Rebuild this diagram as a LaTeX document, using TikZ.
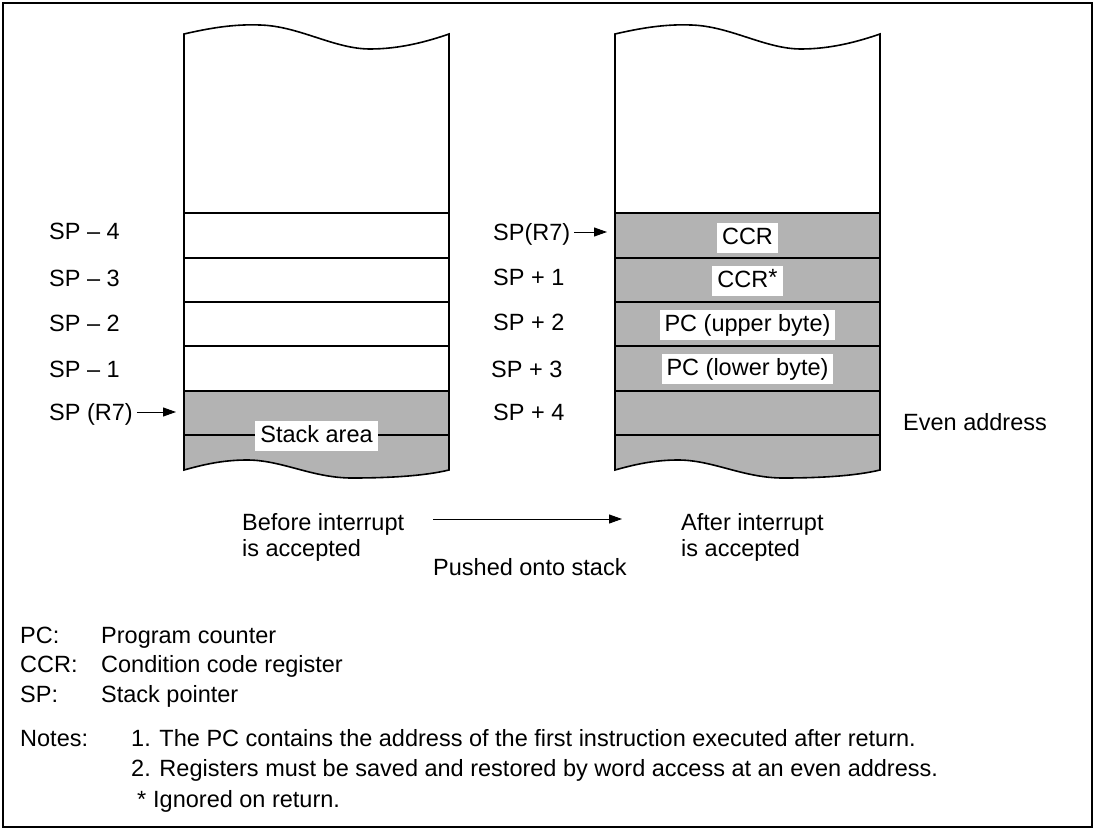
\documentclass[tikz,border=0pt]{standalone}
\usepackage{fontspec}
\setmainfont{Liberation Sans}
\usetikzlibrary{arrows.meta}
\definecolor{stackgray}{RGB}{179,179,179}
\begin{document}
\begin{tikzpicture}[x=1pt,y=-1pt,
  every node/.style={font=\fontsize{23.5}{26}\selectfont, inner sep=0pt},
  lbl/.style={anchor=west, text height=16.8pt, text depth=0pt},
  cell/.style={fill=white, inner xsep=5pt, inner ysep=4pt, text height=16.8pt, text depth=4.5pt},
  ptr/.style={-{Triangle[length=13pt,width=9pt]}, line width=1pt},
  outline/.style={line width=1.6pt},
  rowline/.style={line width=1.2pt}]
\useasboundingbox (0,0) rectangle (1097,829);
\draw[line width=1.5pt] (3,3) rectangle (1092,827);

% two stacks
\foreach \sx/\gt in {184/391, 615/213}{
\begin{scope}[xshift=\sx pt]
  \fill[stackgray] (0,\gt) -- (265,\gt) -- (265,470)
     .. controls (240,476) and (205,478) .. (168,478)
     .. controls (128,478) and (98,460) .. (63,460)
     .. controls (38,460) and (18,465) .. (0,470) -- cycle;
  \foreach \ry in {213,258,302,346,391,435}
    \draw[rowline] (0,\ry) -- (265,\ry);
  \draw[outline] (0,34) .. controls (26,28) and (50,24) .. (76,25)
     .. controls (115,26) and (150,49) .. (186,49)
     .. controls (215,49) and (242,42) .. (265,34)
     -- (265,470)
     .. controls (240,476) and (205,478) .. (168,478)
     .. controls (128,478) and (98,460) .. (63,460)
     .. controls (38,460) and (18,465) .. (0,470) -- cycle;
\end{scope}}

% left labels
\node[lbl] (lm4) at (49,231) {SP – 4};
\node[lbl] (lm3) at (49,278) {SP – 3};
\node[lbl] (lm2) at (49,323) {SP – 2};
\node[lbl] (lm1) at (49,369) {SP – 1};
\node[lbl] (lsp) at (49,412) {SP (R7)};
\coordinate (ltip) at (176,412);
\draw[ptr, shorten <=4pt] (lsp.east) -- (ltip);
\node[cell] (stk) at (316.5,436) {Stack area};

% right labels
\node[lbl] (rsp) at (493,232) {SP(R7)};
\node[lbl] (rp1) at (493,277) {SP + 1};
\node[lbl] (rp2) at (493,322) {SP + 2};
\node[lbl] (rp3) at (491,369) {SP + 3};
\node[lbl] (rp4) at (493,412) {SP + 4};
\coordinate (rtip) at (607,232);
\draw[ptr, shorten <=4pt] (rsp.east) -- (rtip);
\node[cell] (ccr1) at (747.5,238) {CCR};
\node[cell] (ccr2) at (747.5,281) {CCR\raisebox{2pt}{*}};
\node[cell] (pcu) at (747.5,325) {PC (upper byte)};
\node[cell] (pcl) at (747.5,369) {PC (lower byte)};
\node[lbl] (even) at (903,422) {Even address};

% captions
\node[lbl] (bef1) at (242,522) {Before interrupt};
\node[lbl] (bef2) at (242,548) {is accepted};
\node[lbl] (aft1) at (681,522) {After interrupt};
\node[lbl] (aft2) at (681,548) {is accepted};
\coordinate (pa) at (433,519);
\coordinate (pb) at (622,519);
\draw[ptr] (pa) -- (pb);
\node[lbl] (push) at (433,567) {Pushed onto stack};

% legend
\node[lbl] (kpc) at (20,635) {PC:};
\node[lbl] (dpc) at (101,635) {Program counter};
\node[lbl] (kccr) at (20,664.5) {CCR:};
\node[lbl] (dccr) at (101,664.5) {Condition code register};
\node[lbl] (ksp) at (20,694) {SP:};
\node[lbl] (dsp) at (101,694) {Stack pointer};
\node[lbl] (notes) at (20,738) {Notes:};
\node[lbl] (n1) at (131,738) {1. The PC contains the address of the first instruction executed after return.};
\node[lbl] (n2) at (131,768) {2. Registers must be saved and restored by word access at an even address.};
\node[lbl] (star) at (137,799) {*};
\node[lbl] (n3) at (153,799) {Ignored on return.};
\end{tikzpicture}
\end{document}
